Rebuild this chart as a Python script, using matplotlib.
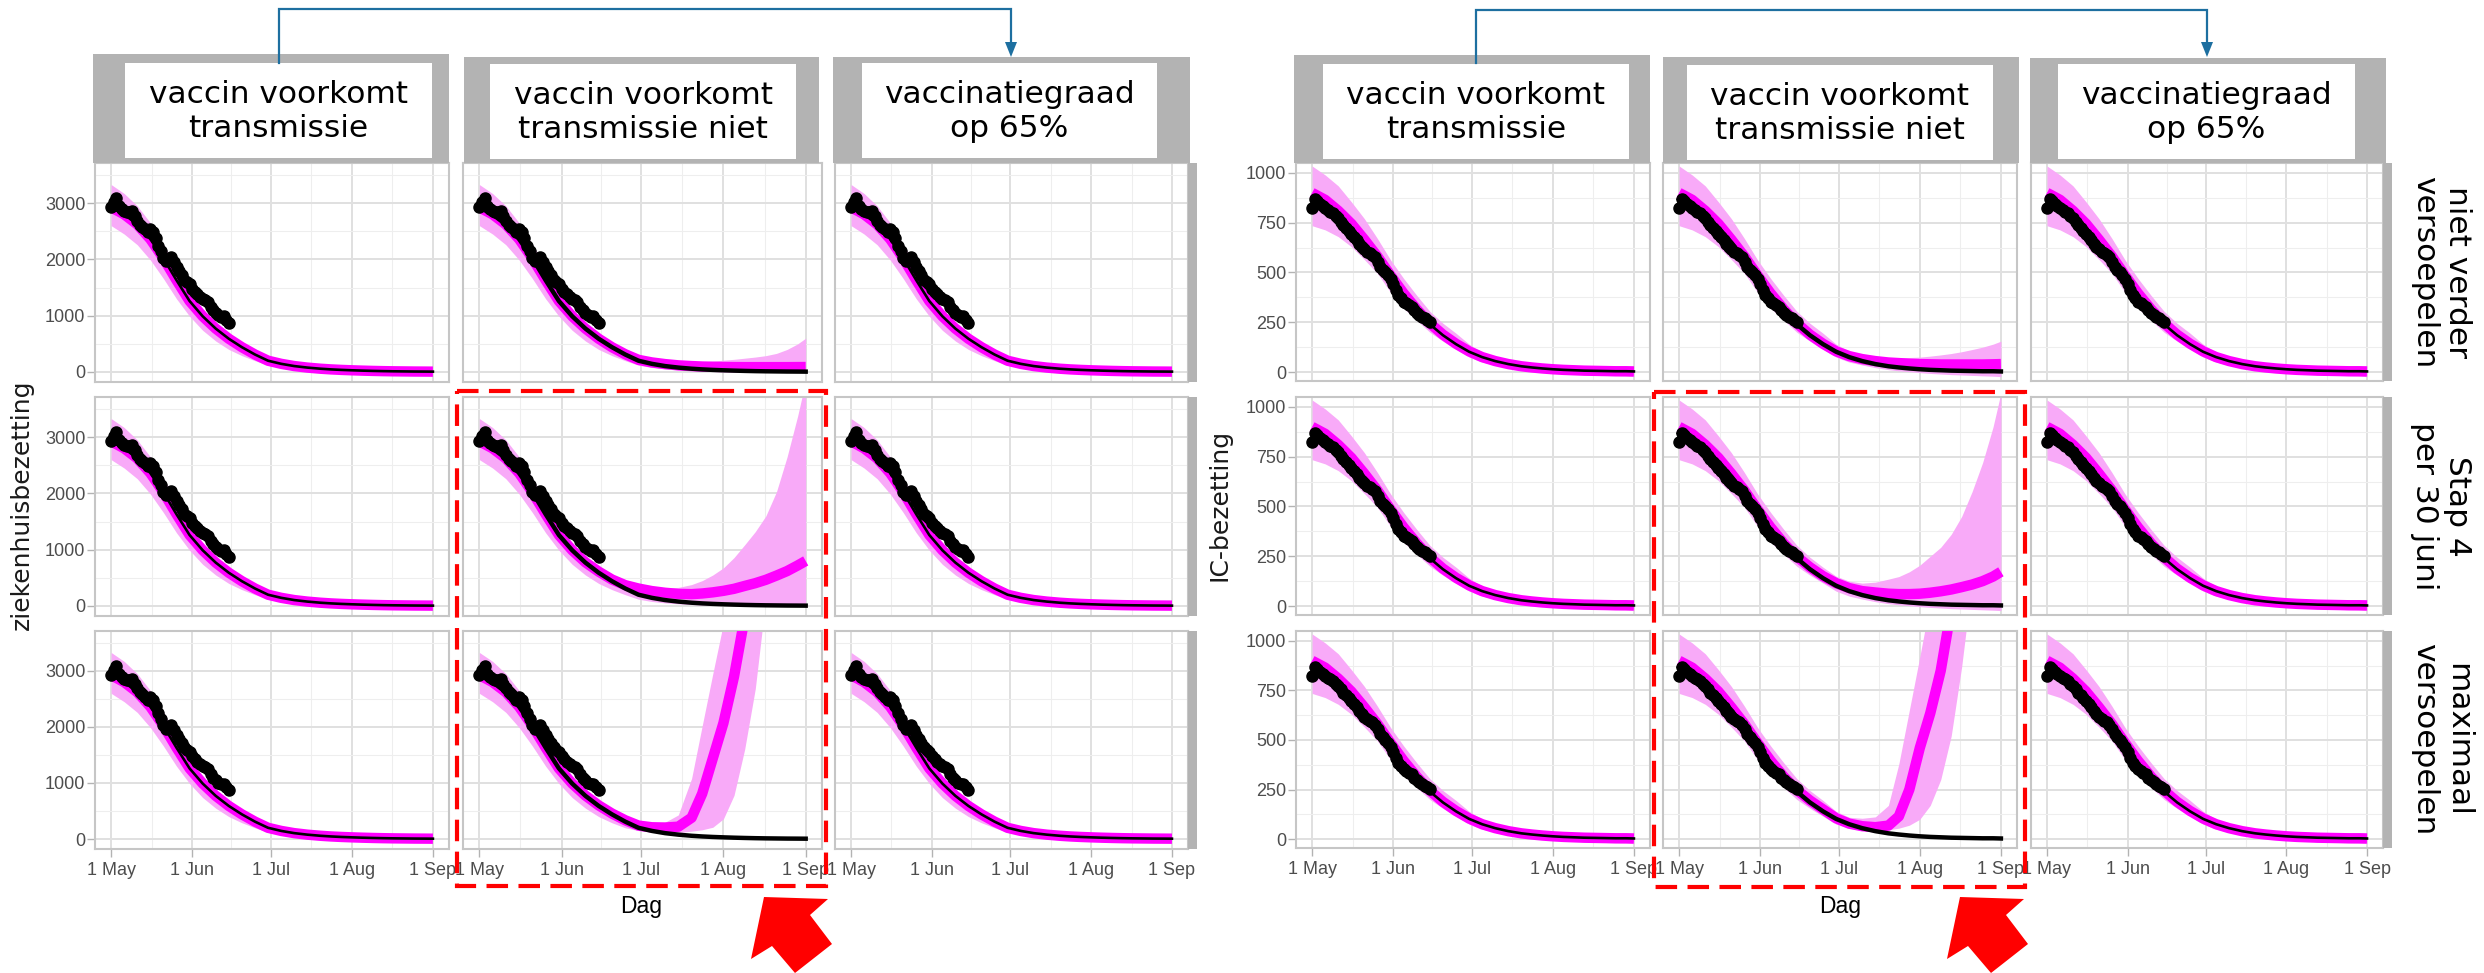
import matplotlib
matplotlib.use('Agg')
import matplotlib.pyplot as plt
from matplotlib.patches import Rectangle, Polygon

W, H = 2484, 973
plt.rcParams['lines.scale_dashes'] = False
plt.rcParams['font.family'] = ['DejaVu Sans']

# ---------------- data ----------------
# model days since 1 May
days = [0, 5, 10, 15, 20, 25, 30, 35, 40, 45, 50, 55, 60, 65, 70, 75, 80,
        84, 88, 92, 96, 100, 104, 108, 112, 116, 120, 123]
dot_days = list(range(46))

# ziekenhuisbezetting (left block)
zh_dots = [2923, 3011, 3082, 2952, 2893, 2864, 2846, 2834, 2852, 2775,
           2687, 2616, 2581, 2540, 2481, 2540, 2481, 2381, 2245, 2145,
           2027, 1968, 1992, 2039, 1950, 1862, 1791, 1715, 1638, 1597,
           1556, 1479, 1420, 1379, 1332, 1302, 1285, 1243, 1155, 1096,
           1049, 1008, 978, 990, 931, 872]
zh_base = [2925, 2800, 2620, 2360, 2020, 1630, 1260, 990, 770, 590, 440, 310, 200, 145, 105, 78, 58,
           46, 37, 30, 24, 19, 15, 12, 10, 8, 7, 6]
zh_lo = [2600, 2450, 2260, 1990, 1660, 1300, 990, 740, 550, 400, 290, 200, 120, 80, 55, 38, 25,
         18, 13, 9, 6, 4, 2, 1, 0, -1, -2, -3]
zh_hi = [3330, 3170, 2950, 2650, 2270, 1850, 1450, 1130, 880, 680, 510, 370, 270, 200, 150, 115, 92,
         80, 70, 63, 58, 55, 52, 50, 48, 47, 46, 45]
# "vaccin voorkomt transmissie niet", rows 1-3
zh_med1 = [2925, 2800, 2620, 2360, 2020, 1630, 1260, 990, 770, 590, 440, 315, 215, 170, 140, 118, 105,
           97, 92, 89, 87, 86, 86, 86, 86, 86, 87, 88]
zh_hi1 = [3330, 3170, 2950, 2650, 2270, 1850, 1450, 1130, 880, 680, 510, 375, 285, 230, 200, 185, 180,
          185, 195, 210, 225, 245, 265, 290, 330, 400, 500, 600]
zh_med2 = [2925, 2800, 2620, 2360, 2020, 1630, 1260, 990, 775, 610, 470, 370, 310, 265, 235, 215, 210,
           222, 242, 269, 305, 356, 405, 465, 540, 620, 720, 800]
zh_hi2 = [3330, 3170, 2950, 2650, 2270, 1850, 1450, 1130, 890, 700, 540, 420, 340, 320, 320, 330, 380,
          450, 550, 677, 860, 1086, 1320, 1600, 2030, 2650, 3380, 4000]
zh_med3 = [2925, 2800, 2620, 2360, 2020, 1630, 1260, 990, 775, 600, 455, 335, 240, 210, 205, 220, 380,
           810, 1440, 2070, 2900, 3950, 5200, 6500, 8000, 9500, 11000, 12500]
zh_hi3 = [3330, 3170, 2950, 2650, 2270, 1850, 1450, 1130, 890, 690, 520, 390, 300, 290, 300, 430, 1080,
          2020, 2950, 3850, 4800, 6000, 7500, 9000, 10500, 12000, 13500, 15000]
zh_lo3 = [2600, 2450, 2260, 1990, 1660, 1300, 990, 740, 550, 400, 290, 200, 150, 120, 110, 115, 140,
          165, 210, 360, 780, 1600, 2680, 4300, 6000, 8000, 10000, 12000]

# IC-bezetting (right block)
ic_dots = [822, 868, 858, 845, 832, 823, 814, 806, 797, 785,
           772, 755, 739, 725, 710, 695, 680, 665, 645, 630,
           618, 605, 598, 590, 578, 555, 529, 515, 500, 487,
           465, 440, 410, 385, 370, 353, 345, 335, 326, 310,
           298, 288, 278, 270, 262, 253]
ic_base = [870, 835, 785, 725, 650, 565, 470, 385, 305, 240, 185, 140, 102, 75, 55, 40, 29,
           23, 18, 14, 11, 9, 7, 6, 5, 4, 4, 3]
ic_med = [900, 865, 810, 745, 665, 580, 485, 395, 315, 245, 188, 142, 104, 75, 55, 40, 29,
          23, 18, 14, 11, 9, 7, 6, 5, 4, 4, 3]
ic_lo = [735, 714, 680, 630, 565, 495, 400, 320, 260, 200, 155, 115, 75, 50, 35, 22, 12,
         6, 2, -3, -7, -10, -13, -15, -17, -19, -21, -23]
ic_hi = [1035, 990, 935, 855, 770, 670, 563, 470, 385, 305, 245, 195, 140, 100, 78, 62, 52,
         47, 42, 38, 35, 33, 32, 31, 30, 30, 30, 30]
ic_med1 = [900, 865, 810, 745, 665, 580, 485, 395, 315, 245, 188, 142, 104, 80, 65, 55, 48,
           45, 42, 40, 39, 38, 38, 38, 38, 38, 39, 40]
ic_hi1 = [1035, 990, 935, 855, 770, 670, 563, 470, 385, 305, 245, 195, 140, 105, 85, 75, 72,
          72, 73, 75, 80, 86, 93, 102, 113, 125, 140, 155]
ic_med2 = [900, 865, 810, 745, 665, 580, 485, 395, 315, 248, 195, 150, 115, 90, 75, 68, 62,
           60, 60, 62, 67, 74, 83, 95, 108, 125, 148, 172]
ic_hi2 = [1035, 990, 935, 855, 770, 670, 563, 470, 385, 305, 245, 195, 150, 125, 115, 120, 135,
          148, 172, 205, 250, 295, 360, 450, 575, 720, 900, 1070]
ic_med3 = [900, 865, 810, 745, 665, 580, 485, 395, 315, 248, 195, 150, 105, 78, 65, 60, 68,
           115, 250, 460, 635, 850, 1160, 1500, 1900, 2300, 2800, 3200]
ic_hi3 = [1035, 990, 935, 855, 770, 670, 563, 470, 385, 305, 245, 195, 140, 110, 105, 112, 170,
          380, 650, 920, 1200, 1500, 1850, 2200, 2600, 3000, 3400, 3800]
ic_lo3 = [735, 714, 680, 630, 565, 495, 400, 320, 260, 200, 155, 115, 75, 55, 45, 42, 47,
          55, 70, 100, 170, 300, 520, 870, 1300, 1800, 2400, 3000]

col_titles = ['vaccin voorkomt\ntransmissie', 'vaccin voorkomt\ntransmissie niet',
              'vaccinatiegraad\nop 65%']
row_titles = ['niet verder\nversoepelen', 'Stap 4\nper 30 juni', 'maximaal\nversoepelen']
month_days = [0, 31, 61, 92, 123]
month_labels = ['1 May', '1 Jun', '1 Jul', '1 Aug', '1 Sep']
minor_days = [15.5, 46, 76.5, 107.5]

# ---------------- layout (pixels) ----------------
TICK_FONT = ['Liberation Sans', 'DejaVu Sans']
RIBBON = '#f8aaf8'
MAGENTA = '#ff00ff'
STRIP = '#b3b3b3'
BLUE = '#1d6fa0'

fig = plt.figure(figsize=(W / 100, H / 100), dpi=100)


def rect(x0, y0, x1, y1):
    return [x0 / W, 1 - y1 / H, (x1 - x0) / W, (y1 - y0) / H]


def panel(xe, ye, ylim, yt, ymin, base, med, lo, hi, dots, black_lw, left, bottom):
    ax = fig.add_axes(rect(xe[0], ye[0], xe[1], ye[1]))
    ax.set_xlim(-6.15, 129.15)
    ax.set_ylim(*ylim)
    ax.set_xticks(month_days)
    ax.set_xticks(minor_days, minor=True)
    ax.set_yticks(yt)
    ax.set_yticks(ymin, minor=True)
    ax.grid(True, which='major', color='#e0e0e0', lw=1.4)
    ax.grid(True, which='minor', color='#eeeeee', lw=0.8)
    ax.set_axisbelow(True)
    ax.fill_between(days, lo, hi, color=RIBBON, lw=0, zorder=2)
    ax.plot(days, med, color=MAGENTA, lw=7.5, solid_capstyle='butt', zorder=3)
    ax.plot(days, base, color='black', lw=black_lw, zorder=4)
    ax.plot(dot_days, dots, 'o', color='black', ms=8, zorder=5)
    for s in ax.spines.values():
        s.set_color('#c6c6c6')
        s.set_linewidth(1.5)
    ax.tick_params(which='minor', length=0)
    ax.tick_params(which='major', length=5.5, width=1, color='#b3b3b3',
                   labelcolor='#4d4d4d', labelsize=13)
    ax.tick_params(axis='y', pad=1.5, left=left, labelleft=left)
    ax.tick_params(axis='x', pad=4, bottom=bottom, labelbottom=bottom)
    ax.set_yticklabels([str(t) for t in yt], family=TICK_FONT)
    ax.set_xticklabels(month_labels, family=TICK_FONT)
    return ax


blocks = [
    dict(cols=[(95, 449), (463, 822), (835, 1188)],
         rows=[(163, 382), (397, 616), (631, 849)],
         ylim=(-178, 3712), yt=[0, 1000, 2000, 3000], ymin=[500, 1500, 2500, 3500],
         base=zh_base, std=(zh_base, zh_lo, zh_hi), dots=zh_dots,
         col2=[(zh_med1, zh_lo, zh_hi1), (zh_med2, zh_lo, zh_hi2), (zh_med3, zh_lo3, zh_hi3)],
         gray=[(93, 54, 449, 163), (464, 57, 819, 163), (833, 57, 1190, 163)],
         white=[(125, 63, 432, 158), (490, 64, 796, 159), (862, 63, 1157, 158)],
         link=(279, 1011, 9), redbox=(457, 391, 826, 886), arrow_dx=0,
         ylabel='ziekenhuisbezetting', ylabel_x=22, ylabel_font=['DejaVu Sans'],
         dag_x=641, strip_x=1188, row_text=False),
    dict(cols=[(1296, 1650), (1663, 2017), (2031, 2383)],
         rows=[(163, 381), (397, 615), (631, 848)],
         ylim=(-45, 1050), yt=[0, 250, 500, 750, 1000], ymin=[125, 375, 625, 875],
         base=ic_base, std=(ic_med, ic_lo, ic_hi), dots=ic_dots,
         col2=[(ic_med1, ic_lo, ic_hi1), (ic_med2, ic_lo, ic_hi2), (ic_med3, ic_lo3, ic_hi3)],
         gray=[(1294, 55, 1650, 163), (1663, 57, 2019, 163), (2030, 58, 2386, 163)],
         white=[(1323, 64, 1629, 159), (1687, 65, 1993, 160), (2058, 64, 2355, 159)],
         link=(1476, 2207, 10), redbox=(1654, 392, 2025, 887), arrow_dx=1196,
         ylabel='IC-bezetting', ylabel_x=1220, ylabel_font=['DejaVu Sans'],
         dag_x=1840, strip_x=2383, row_text=True),
]

for b in blocks:
    for r, ye in enumerate(b['rows']):
        for c, xe in enumerate(b['cols']):
            med, lo, hi = b['col2'][r] if c == 1 else b['std']
            panel(xe, ye, b['ylim'], b['yt'], b['ymin'], b['base'], med, lo, hi,
                  b['dots'], 3.2 if c == 1 else 1.9, c == 0, r == 2)

# ---------------- overlay: strips, connectors, highlights ----------------
ov = fig.add_axes([0, 0, 1, 1], zorder=10)
ov.set_xlim(0, W)
ov.set_ylim(H, 0)
ov.axis('off')
ov.patch.set_alpha(0)

arrow_shape = [(764, 897), (828, 899), (810, 915), (832, 944), (795, 973), (772, 946), (751, 959)]

for b in blocks:
    for (gx0, gy0, gx1, gy1), (wx0, wy0, wx1, wy1), title in zip(b['gray'], b['white'], col_titles):
        ov.add_patch(Rectangle((gx0, gy0), gx1 - gx0, gy1 - gy0, color=STRIP, lw=0))
        ov.add_patch(Rectangle((wx0, wy0), wx1 - wx0, wy1 - wy0, color='white', lw=0))
        ov.text((wx0 + wx1) / 2, (wy0 + wy1) / 2 + 1, title, ha='center', va='center',
                fontsize=22.5, linespacing=1.2, color='black')
    for (ry0, ry1), rt in zip(b['rows'], row_titles):
        ov.add_patch(Rectangle((b['strip_x'], ry0), 9, ry1 - ry0, color=STRIP, lw=0))
        if b['row_text']:
            ov.text(2441, (ry0 + ry1) / 2, rt, rotation=270, ha='center', va='center',
                    fontsize=22.5, linespacing=1.2, color='black')
    # blue connector from first to third column title
    xa, xb, ytop = b['link']
    ov.plot([xa, xa, xb, xb], [63, ytop, ytop, 44], color=BLUE, lw=1.6,
            solid_joinstyle='miter')
    ov.add_patch(Polygon([(xb - 6, 42), (xb + 6, 42), (xb, 57)], closed=True,
                         color=BLUE, lw=0))
    # red dashed highlight
    x0, y0, x1, y1 = b['redbox']
    ov.add_patch(Rectangle((x0, y0), x1 - x0, y1 - y0, fill=False, ec='#ff0000',
                           lw=3, ls=(0, (15.5, 7.5))))
    # red block arrow
    ov.add_patch(Polygon([(x + b['arrow_dx'], y) for x, y in arrow_shape], closed=True,
                         color='#ff0000', lw=0))
    # axis titles
    fig.text(b['ylabel_x'] / W, 1 - 505 / H, b['ylabel'], rotation=90, ha='center',
             va='center', fontsize=18, color='#1a1a1a', family=b['ylabel_font'])
    fig.text(b['dag_x'] / W, 1 - 906 / H, 'Dag', ha='center', va='center',
             fontsize=16.5, color='black', family=TICK_FONT)

fig.savefig('out.png', dpi=100)
